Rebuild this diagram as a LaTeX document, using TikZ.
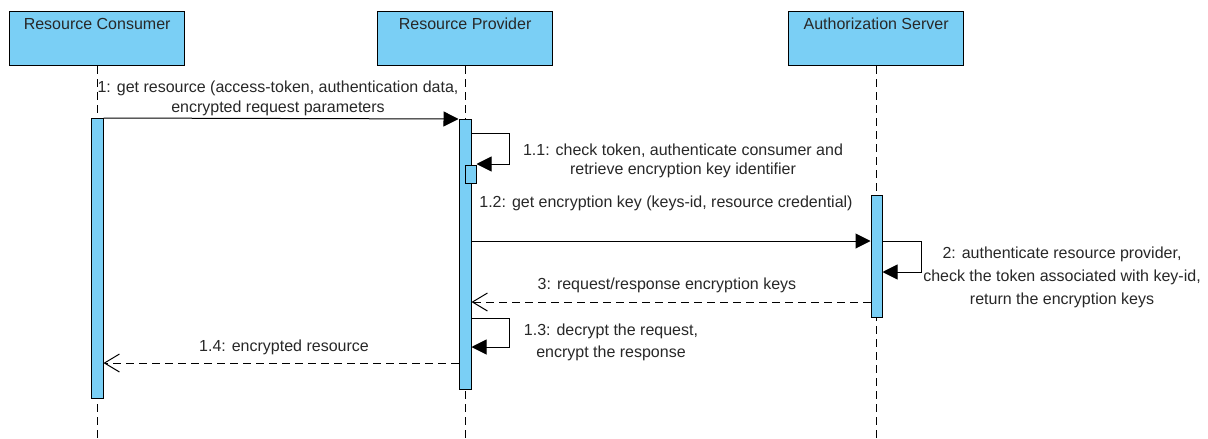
\documentclass[tikz,border=0pt]{standalone}
\usepackage{fontspec}
\setmainfont{Liberation Sans}
\usetikzlibrary{arrows.meta}
\definecolor{lifeblue}{RGB}{122,207,245}
\definecolor{txt}{RGB}{40,40,40}
\begin{document}
\begin{tikzpicture}[x=1pt,y=-1pt,
  actor/.style={draw=black,line width=1.3pt,fill=lifeblue,minimum width=175pt,minimum height=54pt,anchor=north west,inner sep=0pt},
  actlabel/.style={text=txt,font=\fontsize{16}{19}\selectfont,anchor=base},
  act/.style={draw=black,line width=1pt,fill=lifeblue,minimum width=12pt,anchor=north,inner sep=0pt},
  life/.style={draw=black,line width=1pt,dash pattern=on 8pt off 5pt},
  call/.style={draw=black,line width=1pt,-{Triangle[length=15pt,width=15pt]}},
  reply/.style={draw=black,line width=1pt,dash pattern=on 8pt off 5pt,-{Straight Barb[length=15pt,width=18pt]}},
  lbl/.style={text=txt,font=\fontsize{16}{20}\selectfont,align=center,anchor=base,inner sep=0pt},
]
\useasboundingbox (0,0) rectangle (1208,439);
\fill[white] (0,0) rectangle (1208,439);

% participants
\node[actor] (rc) at (9,11) {};
\node[actor] (rp) at (377,11) {};
\node[actor] (as) at (788,11) {};
\node[actlabel] (rcl) at ([yshift=-18pt]rc.north) {Resource Consumer};
\node[actlabel] (rpl) at ([yshift=-18pt]rp.north) {Resource Provider};
\node[actlabel] (asl) at ([yshift=-18pt]as.north) {Authorization Server};

% lifelines
\draw[life] (rc.south) -- (rc.south |- 0,439);
\draw[life] (rp.south) -- (rp.south |- 0,439);
\draw[life] (as.south) -- (as.south |- 0,439);

% activations
\node[act,minimum height=280pt] (a1) at (97,118) {};
\node[act,minimum height=270pt] (a2) at (465,119) {};
\node[act,minimum height=18pt,minimum width=11pt] (a2s) at (470.5,165) {};
\node[act,minimum height=122pt,minimum width=11pt] (a3) at (876.5,195) {};

% 1: request (multi-line labels are placed by the baseline of their last line)
\draw[call] (a1.north east) -- (a2.north west);
\node[lbl] (m1) at (278,112) {1: get resource (access-token, authentication data,\\encrypted request parameters};

% 1.1: self call
\draw[call] (a2.east |- 0,133) -- (509,133) -- (509,164) -- (a2s.east |- 0,164);
\node[lbl,font=\fontsize{16}{19}\selectfont] (m11) at (683,174) {1.1: check token, authenticate consumer and\\retrieve encryption key identifier};

% 1.2: request to authorization server
\draw[call] (a2.east |- 0,241) -- (a3.west |- 0,241);
\node[lbl] (m12) at (666,207) {1.2: get encryption key (keys-id, resource credential)};

% 2: self call on authorization server
\draw[call] (a3.east |- 0,241) -- (921,241) -- (921,272) -- (a3.east |- 0,272);
\node[lbl,font=\fontsize{16}{23}\selectfont] (m2) at (1062,304) {2: authenticate resource provider,\\check the token associated with key-id,\\return the encryption keys};

% 3: reply with keys
\draw[reply] (a3.west |- 0,302) -- (a2.east |- 0,302);
\node[lbl] (m3) at (667,289) {3: request/response encryption keys};

% 1.3: self call
\draw[call] (a2.east |- 0,318) -- (509,318) -- (509,347) -- (a2.east |- 0,347);
\node[lbl,font=\fontsize{16}{22}\selectfont] (m13) at (611,357) {1.3: decrypt the request,\\encrypt the response};

% 1.4: reply to consumer
\draw[reply] (a2.west |- 0,363) -- (a1.east |- 0,363);
\node[lbl] (m14) at (284,351) {1.4: encrypted resource};
\end{tikzpicture}
\end{document}
